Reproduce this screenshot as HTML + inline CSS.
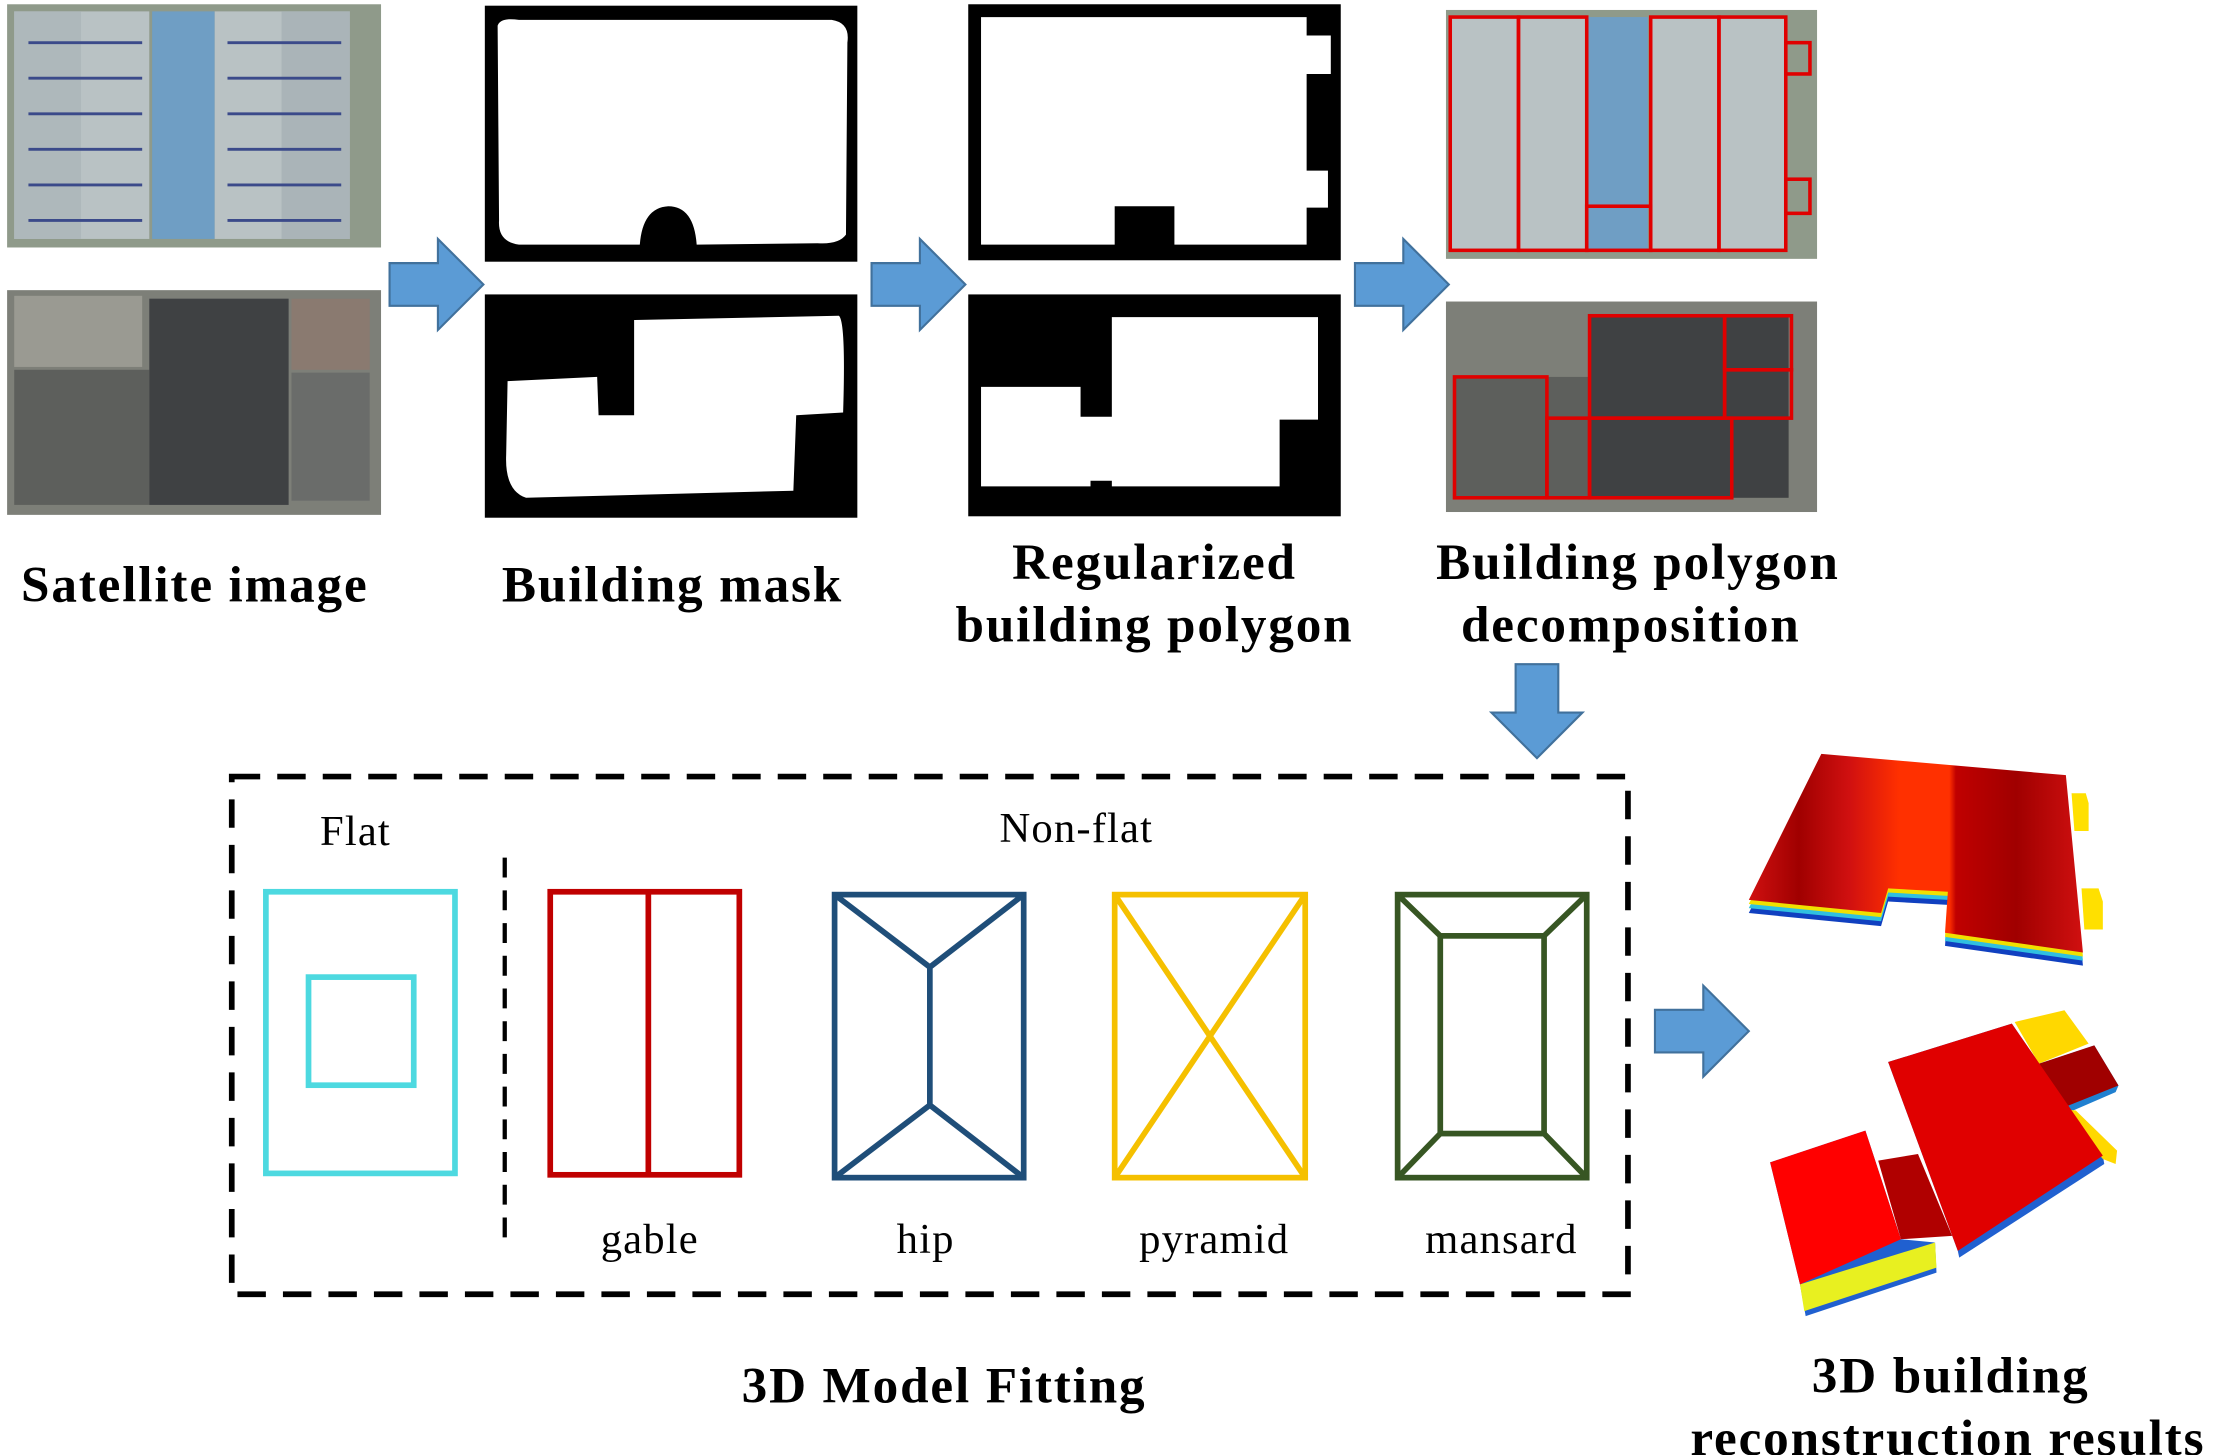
<!DOCTYPE html>
<html><head><meta charset="utf-8"><style>
html,body{margin:0;padding:0;background:#fff;}
svg{display:block;}
text{font-family:"Liberation Serif",serif;}
.b{font-weight:bold;font-size:36px;letter-spacing:1.3px;}
.n{font-size:30px;letter-spacing:0.8px;}
</style></head><body>
<svg width="2218" height="1455" viewBox="0 0 1560 1023" preserveAspectRatio="none" xmlns="http://www.w3.org/2000/svg">
<defs>
<g id="arr"><path d="M0,-15 H34 V-32 L66,0 L34,32 V15 H0 Z" fill="#5b9bd5" stroke="#41719c" stroke-width="1.5"/></g>
<linearGradient id="rg" x1="0" y1="0" x2="1" y2="0">
<stop offset="0" stop-color="#d01010"/><stop offset="0.15" stop-color="#a00000"/><stop offset="0.3" stop-color="#d01010"/><stop offset="0.45" stop-color="#ff3000"/><stop offset="0.6" stop-color="#ff3000"/><stop offset="0.62" stop-color="#c00000"/><stop offset="0.8" stop-color="#a00000"/><stop offset="1" stop-color="#d01010"/>
</linearGradient>
</defs>
<rect x="5" y="3" width="263" height="171" fill="#8f9a8a"/>
<rect x="10" y="8" width="95" height="160" fill="#b9c2c4"/>
<rect x="10" y="8" width="47" height="160" fill="#aeb8bb"/>
<rect x="107" y="8" width="44" height="160" fill="#6f9ec4"/>
<rect x="151" y="8" width="95" height="160" fill="#b9c2c4"/>
<rect x="198" y="8" width="48" height="160" fill="#aab4b8"/>
<g stroke="#3b4a8a" stroke-width="2">
<line x1="20" y1="30" x2="100" y2="30"/><line x1="20" y1="55" x2="100" y2="55"/><line x1="20" y1="80" x2="100" y2="80"/><line x1="20" y1="105" x2="100" y2="105"/><line x1="20" y1="130" x2="100" y2="130"/><line x1="20" y1="155" x2="100" y2="155"/>
<line x1="160" y1="30" x2="240" y2="30"/><line x1="160" y1="55" x2="240" y2="55"/><line x1="160" y1="80" x2="240" y2="80"/><line x1="160" y1="105" x2="240" y2="105"/><line x1="160" y1="130" x2="240" y2="130"/><line x1="160" y1="155" x2="240" y2="155"/>
</g>
<rect x="5" y="204" width="263" height="158" fill="#7d7f78"/>
<rect x="10" y="260" width="95" height="95" fill="#5d5f5c"/>
<rect x="105" y="210" width="98" height="145" fill="#3f4143"/>
<rect x="205" y="210" width="55" height="50" fill="#8a7a70"/>
<rect x="205" y="262" width="55" height="90" fill="#6a6c6a"/>
<rect x="10" y="208" width="90" height="50" fill="#9a9a92"/>
<use href="#arr" x="274" y="200"/>
<rect x="341" y="4" width="262" height="180" fill="#000"/>
<path d="M350,18 Q352,12 365,14 L585,14 Q598,16 596,30 L595,165 Q590,172 575,171 L490,172 Q488,145 470,145 Q452,146 450,172 L365,172 Q350,170 351,155 Z" fill="#fff"/>
<rect x="341" y="207" width="262" height="157" fill="#000"/>
<path d="M446,225 L590,222 Q595,226 593,290 L560,292 L558,345 L370,350 Q355,345 356,320 L357,268 L420,265 L421,292 L446,292 Z" fill="#fff"/>
<use href="#arr" x="613" y="200"/>
<rect x="681" y="3" width="262" height="180" fill="#000"/>
<path d="M690,12 L919,12 L919,25 L936,25 L936,52 L919,52 L919,120 L934,120 L934,146 L919,146 L919,172 L826,172 L826,145 L784,145 L784,172 L690,172 Z" fill="#fff"/>
<rect x="681" y="207" width="262" height="156" fill="#000"/>
<path d="M782,223 L927,223 L927,295 L900,295 L900,342 L782,342 L782,338 L767,338 L767,342 L690,342 L690,272 L760,272 L760,293 L782,293 Z" fill="#fff"/>
<use href="#arr" x="953" y="200"/>
<rect x="1017" y="7" width="261" height="175" fill="#8f9a8a"/>
<rect x="1020" y="12" width="95" height="165" fill="#b9c2c4"/>
<rect x="1115" y="12" width="44" height="165" fill="#6f9ec4"/>
<rect x="1160" y="12" width="96" height="165" fill="#b9c2c4"/>
<g fill="none" stroke="#e00000" stroke-width="2.5">
<rect x="1020" y="12" width="48" height="164"/><rect x="1068" y="12" width="48" height="164"/>
<rect x="1116" y="145" width="45" height="31"/>
<rect x="1161" y="12" width="48" height="164"/><rect x="1209" y="12" width="47" height="164"/>
<rect x="1256" y="30" width="17" height="22"/><rect x="1256" y="126" width="17" height="24"/>
</g>
<rect x="1017" y="212" width="261" height="148" fill="#7d7f78"/>
<rect x="1118" y="222" width="140" height="128" fill="#3f4143"/>
<rect x="1022" y="265" width="96" height="85" fill="#5d5f5c"/>
<g fill="none" stroke="#e00000" stroke-width="2.5">
<rect x="1118" y="222" width="95" height="72"/><rect x="1213" y="222" width="47" height="38"/><rect x="1213" y="260" width="47" height="34"/>
<rect x="1023" y="265" width="65" height="85"/><rect x="1088" y="294" width="30" height="56"/><rect x="1118" y="294" width="100" height="56"/>
</g>
<text class="b" x="137" y="423" text-anchor="middle">Satellite image</text>
<text class="b" x="473" y="423" text-anchor="middle">Building mask</text>
<text class="b" x="812" y="407" text-anchor="middle">Regularized</text>
<text class="b" x="812" y="451" text-anchor="middle">building polygon</text>
<text class="b" x="1152" y="407" text-anchor="middle">Building polygon</text>
<text class="b" x="1147" y="451" text-anchor="middle">decomposition</text>
<use href="#arr" transform="translate(1081,467) rotate(90)"/>
<rect x="163" y="546" width="982" height="364" fill="none" stroke="#000" stroke-width="4" stroke-dasharray="20,12"/>
<line x1="355" y1="603" x2="355" y2="870" stroke="#000" stroke-width="3" stroke-dasharray="14,9"/>
<text class="n" x="250" y="594" text-anchor="middle">Flat</text>
<text class="n" x="757" y="592" text-anchor="middle">Non-flat</text>
<g fill="none" stroke-width="4">
<rect x="187" y="627" width="133" height="198" stroke="#4dd9e0"/>
<rect x="217" y="687" width="74" height="76" stroke="#4dd9e0"/>
<rect x="387" y="627" width="133" height="199" stroke="#c00000"/>
<line x1="456" y1="627" x2="456" y2="826" stroke="#c00000"/>
<g stroke="#1f4e79"><rect x="587" y="629" width="133" height="199"/><path d="M587,629 L654,680 L720,629 M654,680 L654,777 M587,828 L654,777 L720,828"/></g>
<g stroke="#f5c000"><rect x="784" y="629" width="134" height="199"/><path d="M784,629 L918,828 M918,629 L784,828"/></g>
<g stroke="#375623"><rect x="983" y="629" width="133" height="199"/><rect x="1013" y="658" width="73" height="139"/><path d="M983,629 L1013,658 M1116,629 L1086,658 M983,828 L1013,797 M1116,828 L1086,797"/></g>
</g>
<text class="n" x="457" y="881" text-anchor="middle">gable</text>
<text class="n" x="651" y="881" text-anchor="middle">hip</text>
<text class="n" x="854" y="881" text-anchor="middle">pyramid</text>
<text class="n" x="1056" y="881" text-anchor="middle">mansard</text>
<text class="b" x="664" y="986" text-anchor="middle">3D Model Fitting</text>
<use href="#arr" x="1164" y="725"/>
<!-- 3D top -->
<g transform="translate(0,-81.6) scale(1,1.154)">
<path d="M1457,554 L1467,554 L1469,560 L1469,577 L1459,577 Z" fill="#ffe000"/>
<path d="M1464,612 L1476,612 L1479,620 L1479,637 L1466,637 Z" fill="#ffe000"/>
<g transform="translate(0,8)"><path d="M1230,619 L1281,530 L1453,543 L1465,651 L1368,639 L1370,614 L1328,612 L1323,627 Z" fill="#1040c0"/></g>
<g transform="translate(0,5)"><path d="M1230,619 L1281,530 L1453,543 L1465,651 L1368,639 L1370,614 L1328,612 L1323,627 Z" fill="#30c0e0"/></g>
<g transform="translate(0,2.5)"><path d="M1230,619 L1281,530 L1453,543 L1465,651 L1368,639 L1370,614 L1328,612 L1323,627 Z" fill="#f0e000"/></g>
<path d="M1230,619 L1281,530 L1453,543 L1465,651 L1368,639 L1370,614 L1328,612 L1323,627 Z" fill="url(#rg)"/>
</g>
<!-- 3D bottom -->
<g transform="translate(0,-98.1) scale(1,1.175)">
<path d="M1245,779 L1312,760 L1337,825 L1361,827 L1362,845 L1270,871 L1266,852 Z" fill="#2060d0"/>
<path d="M1266,852 L1361,827 L1362,842 L1269,868 Z" fill="#e8f020"/>
<path d="M1321,778 L1349,774 L1373,823 L1337,825 Z" fill="#b00000"/>
<path d="M1245,779 L1312,760 L1337,825 L1266,852 Z" fill="#ff0000"/>
<path d="M1328,719 L1415,696 L1479,775 L1480,780 L1378,836 L1377,832 Z" fill="#2060d0"/>
<path d="M1417,695 L1452,688 L1469,708 L1434,720 Z" fill="#ffd800"/>
<path d="M1434,720 L1473,709 L1490,733 L1488,737 L1450,751 L1449,747 Z" fill="#2080d0"/>
<path d="M1434,720 L1473,709 L1490,733 L1449,747 Z" fill="#a00000"/>
<path d="M1450,747 L1460,748 L1489,772 L1488,780 L1479,777 Z" fill="#ffd800"/>
<path d="M1328,719 L1415,696 L1479,775 L1377,832 Z" fill="#e00000"/>
</g>
<text class="b" x="1372" y="979" text-anchor="middle">3D building</text>
<text class="b" x="1370" y="1023" text-anchor="middle">reconstruction results</text>
</svg>
</body></html>
